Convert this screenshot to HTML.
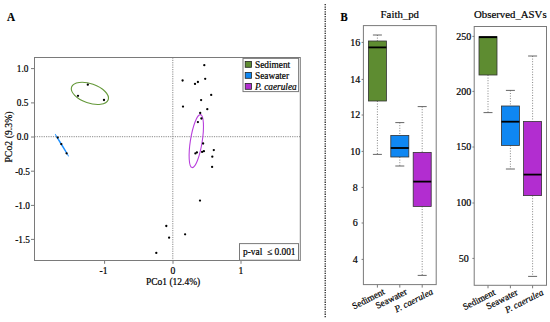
<!DOCTYPE html><html><head><meta charset="utf-8"><style>html,body{margin:0;padding:0;background:#fff;width:550px;height:322px;overflow:hidden}svg{display:block}text{font-family:"Liberation Serif",serif;stroke:#000;stroke-width:0.2px;paint-order:stroke}</style></head><body>
<svg width="550" height="322" viewBox="0 0 550 322">
<rect width="550" height="322" fill="#fff"/>
<text transform="translate(7.0 21) scale(0.86 1)" font-size="13" font-weight="bold">A</text>
<line x1="34.5" y1="136.7" x2="300.3" y2="136.7" stroke="#8a8a8a" stroke-width="1" stroke-dasharray="1.2 1.1"/>
<line x1="172.8" y1="57.5" x2="172.8" y2="260.5" stroke="#8a8a8a" stroke-width="1" stroke-dasharray="1.2 1.1"/>
<rect x="34.5" y="57.5" width="265.8" height="203.0" fill="none" stroke="#7a7a7a" stroke-width="1"/>
<line x1="31" y1="68.6" x2="34.5" y2="68.6" stroke="#7a7a7a" stroke-width="1"/>
<text x="22.6" y="71.89999999999999" font-size="9.3" text-anchor="middle">1.0</text>
<line x1="31" y1="102.9" x2="34.5" y2="102.9" stroke="#7a7a7a" stroke-width="1"/>
<text x="22.6" y="106.2" font-size="9.3" text-anchor="middle">0.5</text>
<line x1="31" y1="137" x2="34.5" y2="137" stroke="#7a7a7a" stroke-width="1"/>
<text x="22.6" y="140.3" font-size="9.3" text-anchor="middle">0.0</text>
<line x1="31" y1="171.2" x2="34.5" y2="171.2" stroke="#7a7a7a" stroke-width="1"/>
<text x="22.6" y="174.5" font-size="9.3" text-anchor="middle">-0.5</text>
<line x1="31" y1="205.4" x2="34.5" y2="205.4" stroke="#7a7a7a" stroke-width="1"/>
<text x="22.6" y="208.70000000000002" font-size="9.3" text-anchor="middle">-1.0</text>
<line x1="31" y1="239.4" x2="34.5" y2="239.4" stroke="#7a7a7a" stroke-width="1"/>
<text x="22.6" y="242.70000000000002" font-size="9.3" text-anchor="middle">-1.5</text>
<line x1="104.6" y1="260.5" x2="104.6" y2="263.8" stroke="#7a7a7a" stroke-width="1"/>
<text x="103.6" y="274" font-size="9.6" text-anchor="middle">-1</text>
<line x1="173" y1="260.5" x2="173" y2="263.8" stroke="#7a7a7a" stroke-width="1"/>
<text x="173" y="274" font-size="9.6" text-anchor="middle">0</text>
<line x1="241" y1="260.5" x2="241" y2="263.8" stroke="#7a7a7a" stroke-width="1"/>
<text x="241" y="274" font-size="9.6" text-anchor="middle">1</text>
<text x="173.1" y="285" font-size="9.5" text-anchor="middle">PCo1 (12.4%)</text>
<text transform="translate(12.3 137.0) rotate(-90)" font-size="9.8" text-anchor="middle">PCo2 (9.3%)</text>
<ellipse cx="89.9" cy="93.4" rx="19.4" ry="9.6" transform="rotate(19.2 89.9 93.4)" fill="none" stroke="#65993a" stroke-width="1.1"/>
<ellipse cx="61.9" cy="145.2" rx="12.9" ry="0.3" transform="rotate(58.8 61.9 145.2)" fill="none" stroke="#1e90ff" stroke-width="1"/>
<ellipse cx="196.3" cy="141.1" rx="5.9" ry="26.8" transform="rotate(9 196.3 141.1)" fill="none" stroke="#b840dc" stroke-width="1.1"/>
<circle cx="87.8" cy="84.7" r="1.15" fill="#000"/>
<circle cx="78" cy="95.8" r="1.15" fill="#000"/>
<circle cx="104" cy="100" r="1.15" fill="#000"/>
<circle cx="57.7" cy="137.6" r="1.15" fill="#000"/>
<circle cx="61.3" cy="144.1" r="1.15" fill="#000"/>
<circle cx="66.6" cy="153.3" r="1.15" fill="#000"/>
<circle cx="204.3" cy="65.2" r="1.15" fill="#000"/>
<circle cx="182.6" cy="80.5" r="1.15" fill="#000"/>
<circle cx="195" cy="83.9" r="1.15" fill="#000"/>
<circle cx="197.9" cy="82" r="1.15" fill="#000"/>
<circle cx="205.2" cy="78.8" r="1.15" fill="#000"/>
<circle cx="211.2" cy="94.9" r="1.15" fill="#000"/>
<circle cx="201.1" cy="100.1" r="1.15" fill="#000"/>
<circle cx="183" cy="106.6" r="1.15" fill="#000"/>
<circle cx="207.3" cy="109.2" r="1.15" fill="#000"/>
<circle cx="200.2" cy="113" r="1.15" fill="#000"/>
<circle cx="201.4" cy="118.5" r="1.15" fill="#000"/>
<circle cx="197.9" cy="122.1" r="1.15" fill="#000"/>
<circle cx="203.1" cy="143.5" r="1.15" fill="#000"/>
<circle cx="195.4" cy="153.4" r="1.15" fill="#000"/>
<circle cx="196.9" cy="152.4" r="1.15" fill="#000"/>
<circle cx="202.1" cy="151.9" r="1.15" fill="#000"/>
<circle cx="203.9" cy="151.2" r="1.15" fill="#000"/>
<circle cx="213.8" cy="150.1" r="1.15" fill="#000"/>
<circle cx="212.3" cy="156.7" r="1.15" fill="#000"/>
<circle cx="212.1" cy="166.9" r="1.15" fill="#000"/>
<circle cx="200" cy="200.6" r="1.15" fill="#000"/>
<circle cx="166.3" cy="226" r="1.15" fill="#000"/>
<circle cx="169.1" cy="237.7" r="1.15" fill="#000"/>
<circle cx="185.1" cy="234.3" r="1.15" fill="#000"/>
<circle cx="156.3" cy="252.9" r="1.15" fill="#000"/>
<rect x="243" y="58.4" width="55.6" height="33.2" fill="#fff" stroke="#7a7a7a" stroke-width="1"/>
<rect x="245.2" y="61.50000000000001" width="6.2" height="5.8" fill="#5e8c31" stroke="#222" stroke-width="0.8"/>
<text x="255" y="67.7" font-size="9.3">Sediment</text>
<rect x="245.2" y="72.5" width="6.2" height="5.8" fill="#0f87f2" stroke="#222" stroke-width="0.8"/>
<text x="255" y="78.7" font-size="9.3">Seawater</text>
<rect x="245.2" y="83.5" width="6.2" height="5.8" fill="#b22dd0" stroke="#222" stroke-width="0.8"/>
<text x="255" y="89.7" font-size="9.3" font-style="italic">P. caerulea</text>
<rect x="239.5" y="243.6" width="59" height="16.6" fill="#fff" stroke="#7a7a7a" stroke-width="1"/>
<text x="243" y="255" font-size="9.4" style="white-space:pre">p-val  ≤ 0.001</text>
<line x1="325.2" y1="4" x2="325.2" y2="318.5" stroke="#111" stroke-width="1.2" stroke-dasharray="1.3 1.1"/>
<text transform="translate(340.4 21) scale(0.88 1)" font-size="12.2" font-weight="bold">B</text>
<text x="399.79999999999995" y="18.0" font-size="10.8" text-anchor="middle">Faith_pd</text>
<line x1="361.59999999999997" y1="42.4" x2="363.4" y2="42.4" stroke="#7a7a7a" stroke-width="1"/>
<text x="355.2" y="45.6" font-size="10" text-anchor="middle">16</text>
<line x1="361.59999999999997" y1="79.4" x2="363.4" y2="79.4" stroke="#7a7a7a" stroke-width="1"/>
<text x="355.2" y="82.60000000000001" font-size="10" text-anchor="middle">14</text>
<line x1="361.59999999999997" y1="115" x2="363.4" y2="115" stroke="#7a7a7a" stroke-width="1"/>
<text x="355.2" y="118.2" font-size="10" text-anchor="middle">12</text>
<line x1="361.59999999999997" y1="151.4" x2="363.4" y2="151.4" stroke="#7a7a7a" stroke-width="1"/>
<text x="355.2" y="154.6" font-size="10" text-anchor="middle">10</text>
<line x1="361.59999999999997" y1="187.4" x2="363.4" y2="187.4" stroke="#7a7a7a" stroke-width="1"/>
<text x="355.2" y="190.6" font-size="10" text-anchor="middle">8</text>
<line x1="361.59999999999997" y1="223" x2="363.4" y2="223" stroke="#7a7a7a" stroke-width="1"/>
<text x="355.2" y="226.2" font-size="10" text-anchor="middle">6</text>
<line x1="361.59999999999997" y1="259.4" x2="363.4" y2="259.4" stroke="#7a7a7a" stroke-width="1"/>
<text x="355.2" y="262.59999999999997" font-size="10" text-anchor="middle">4</text>
<line x1="377.4" y1="35" x2="377.4" y2="41" stroke="#666" stroke-width="0.8" stroke-dasharray="1 1.6"/>
<line x1="372.9" y1="35" x2="381.9" y2="35" stroke="#555" stroke-width="0.9"/>
<line x1="377.4" y1="101" x2="377.4" y2="154.4" stroke="#666" stroke-width="0.8" stroke-dasharray="1 1.6"/>
<line x1="372.9" y1="154.4" x2="381.9" y2="154.4" stroke="#555" stroke-width="0.9"/>
<rect x="368.4" y="41" width="18" height="60" fill="#5e8c31" stroke="#333" stroke-width="0.8"/>
<line x1="368.4" y1="47.4" x2="386.4" y2="47.4" stroke="#000" stroke-width="1.8"/>
<line x1="399.8" y1="122.6" x2="399.8" y2="135.4" stroke="#666" stroke-width="0.8" stroke-dasharray="1 1.6"/>
<line x1="395.3" y1="122.6" x2="404.3" y2="122.6" stroke="#555" stroke-width="0.9"/>
<line x1="399.8" y1="157" x2="399.8" y2="166" stroke="#666" stroke-width="0.8" stroke-dasharray="1 1.6"/>
<line x1="395.3" y1="166" x2="404.3" y2="166" stroke="#555" stroke-width="0.9"/>
<rect x="390.8" y="135.4" width="18" height="21.599999999999994" fill="#0f87f2" stroke="#333" stroke-width="0.8"/>
<line x1="390.8" y1="148" x2="408.8" y2="148" stroke="#000" stroke-width="1.8"/>
<line x1="422.2" y1="106.6" x2="422.2" y2="152.4" stroke="#666" stroke-width="0.8" stroke-dasharray="1 1.6"/>
<line x1="417.7" y1="106.6" x2="426.7" y2="106.6" stroke="#555" stroke-width="0.9"/>
<line x1="422.2" y1="206.4" x2="422.2" y2="275.4" stroke="#666" stroke-width="0.8" stroke-dasharray="1 1.6"/>
<line x1="417.7" y1="275.4" x2="426.7" y2="275.4" stroke="#555" stroke-width="0.9"/>
<rect x="413.2" y="152.4" width="18" height="54.0" fill="#b22dd0" stroke="#333" stroke-width="0.8"/>
<line x1="413.2" y1="181.6" x2="431.2" y2="181.6" stroke="#000" stroke-width="1.8"/>
<rect x="363.4" y="25.6" width="72.80000000000001" height="259.0" fill="none" stroke="#7a7a7a" stroke-width="1"/>
<line x1="377.4" y1="284.6" x2="377.4" y2="287.6" stroke="#7a7a7a" stroke-width="1"/>
<text transform="translate(385.4 293.6) rotate(-27)" font-size="9.3" text-anchor="end">Sediment</text>
<line x1="399.8" y1="284.6" x2="399.8" y2="287.6" stroke="#7a7a7a" stroke-width="1"/>
<text transform="translate(407.8 293.6) rotate(-27)" font-size="9.3" text-anchor="end">Seawater</text>
<line x1="422.2" y1="284.6" x2="422.2" y2="287.6" stroke="#7a7a7a" stroke-width="1"/>
<text transform="translate(433.7 293.6) rotate(-27)" font-size="9.3" text-anchor="end" font-style="italic">P. caerulea</text>
<text x="510.35" y="18.0" font-size="10.8" text-anchor="middle">Observed_ASVs</text>
<line x1="472.4" y1="36.4" x2="474.2" y2="36.4" stroke="#7a7a7a" stroke-width="1"/>
<text x="463.8" y="39.6" font-size="10" text-anchor="middle">250</text>
<line x1="472.4" y1="91.4" x2="474.2" y2="91.4" stroke="#7a7a7a" stroke-width="1"/>
<text x="463.8" y="94.60000000000001" font-size="10" text-anchor="middle">200</text>
<line x1="472.4" y1="147" x2="474.2" y2="147" stroke="#7a7a7a" stroke-width="1"/>
<text x="463.8" y="150.2" font-size="10" text-anchor="middle">150</text>
<line x1="472.4" y1="203" x2="474.2" y2="203" stroke="#7a7a7a" stroke-width="1"/>
<text x="463.8" y="206.2" font-size="10" text-anchor="middle">100</text>
<line x1="472.4" y1="258.4" x2="474.2" y2="258.4" stroke="#7a7a7a" stroke-width="1"/>
<text x="463.8" y="261.59999999999997" font-size="10" text-anchor="middle">50</text>
<line x1="488" y1="75" x2="488" y2="112.6" stroke="#666" stroke-width="0.8" stroke-dasharray="1 1.6"/>
<line x1="483.5" y1="112.6" x2="492.5" y2="112.6" stroke="#555" stroke-width="0.9"/>
<rect x="479" y="36.6" width="18" height="38.4" fill="#5e8c31" stroke="#333" stroke-width="0.8"/>
<line x1="479" y1="37.2" x2="497" y2="37.2" stroke="#000" stroke-width="1.8"/>
<line x1="510.4" y1="90.4" x2="510.4" y2="106" stroke="#666" stroke-width="0.8" stroke-dasharray="1 1.6"/>
<line x1="505.9" y1="90.4" x2="514.9" y2="90.4" stroke="#555" stroke-width="0.9"/>
<line x1="510.4" y1="145.4" x2="510.4" y2="169" stroke="#666" stroke-width="0.8" stroke-dasharray="1 1.6"/>
<line x1="505.9" y1="169" x2="514.9" y2="169" stroke="#555" stroke-width="0.9"/>
<rect x="501.4" y="106" width="18" height="39.400000000000006" fill="#0f87f2" stroke="#333" stroke-width="0.8"/>
<line x1="501.4" y1="121.7" x2="519.4" y2="121.7" stroke="#000" stroke-width="1.8"/>
<line x1="532.6" y1="56" x2="532.6" y2="121.5" stroke="#666" stroke-width="0.8" stroke-dasharray="1 1.6"/>
<line x1="528.1" y1="56" x2="537.1" y2="56" stroke="#555" stroke-width="0.9"/>
<line x1="532.6" y1="195.6" x2="532.6" y2="276.4" stroke="#666" stroke-width="0.8" stroke-dasharray="1 1.6"/>
<line x1="528.1" y1="276.4" x2="537.1" y2="276.4" stroke="#555" stroke-width="0.9"/>
<rect x="523.6" y="121.5" width="18" height="74.1" fill="#b22dd0" stroke="#333" stroke-width="0.8"/>
<line x1="523.6" y1="174.6" x2="541.6" y2="174.6" stroke="#000" stroke-width="1.8"/>
<rect x="474.2" y="26.5" width="72.30000000000001" height="258.8" fill="none" stroke="#7a7a7a" stroke-width="1"/>
<line x1="488" y1="285.3" x2="488" y2="288.3" stroke="#7a7a7a" stroke-width="1"/>
<text transform="translate(496 294.3) rotate(-27)" font-size="9.3" text-anchor="end">Sediment</text>
<line x1="510.4" y1="285.3" x2="510.4" y2="288.3" stroke="#7a7a7a" stroke-width="1"/>
<text transform="translate(518.4 294.3) rotate(-27)" font-size="9.3" text-anchor="end">Seawater</text>
<line x1="532.6" y1="285.3" x2="532.6" y2="288.3" stroke="#7a7a7a" stroke-width="1"/>
<text transform="translate(544.1 294.3) rotate(-27)" font-size="9.3" text-anchor="end" font-style="italic">P. caerulea</text>
</svg></body></html>
